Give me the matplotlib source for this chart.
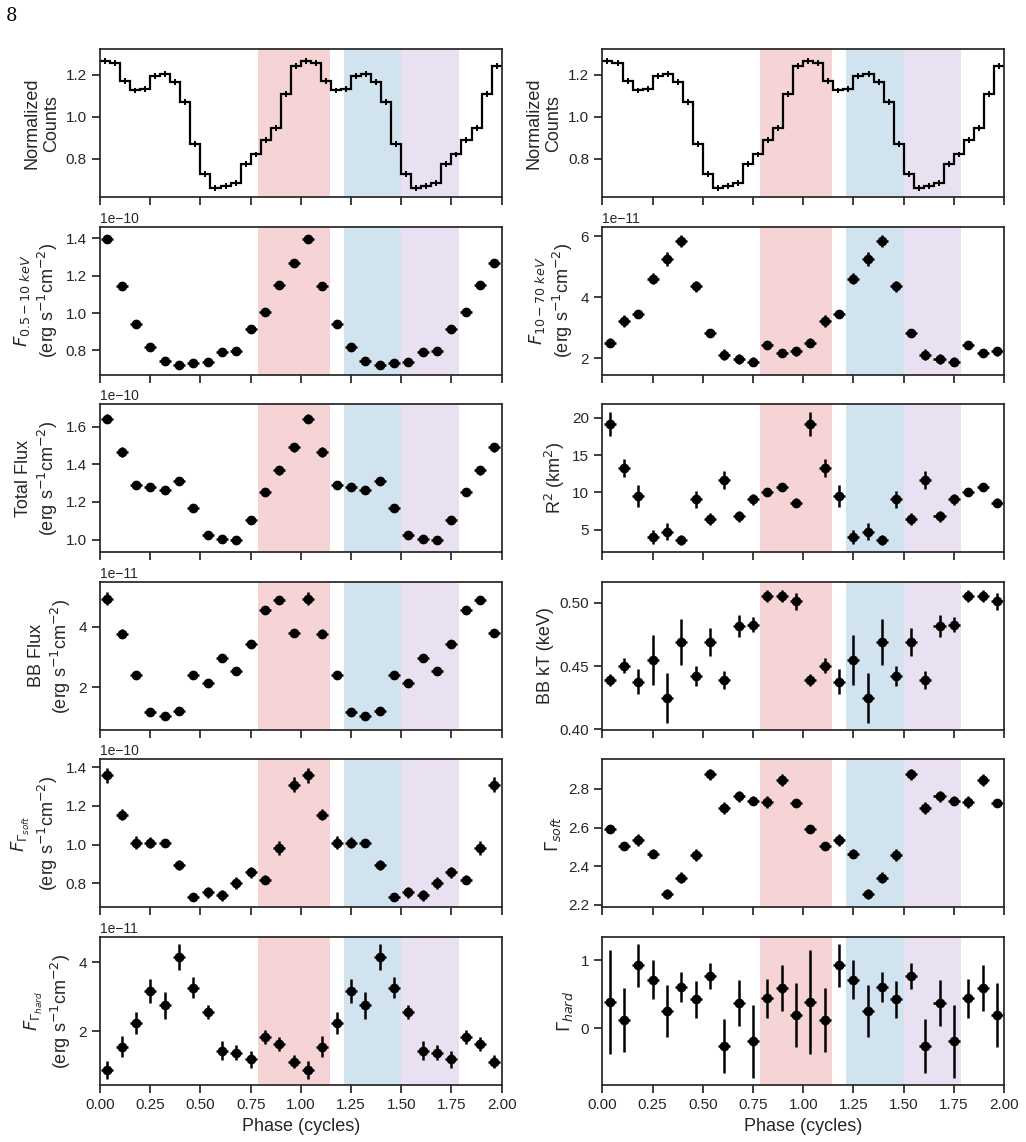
import numpy as np
import matplotlib.pyplot as plt

# light curve, 20 bins per cycle (one cycle, repeated for display)
counts = [1.265, 1.255, 1.17, 1.125, 1.13, 1.195, 1.205, 1.165, 1.07, 0.87,
          0.725, 0.66, 0.67, 0.685, 0.775, 0.82, 0.89, 0.945, 1.11, 1.24]
counts_err = [0.014] * 20

# phase-resolved spectroscopy, 14 bins per cycle
f_soft_band = [1.396, 1.143, 0.943, 0.820, 0.741, 0.723, 0.730, 0.737, 0.789, 0.796,
               0.916, 1.007, 1.148, 1.270]  # 1e-10
f_soft_band_err = [0.012, 0.012, 0.010, 0.010, 0.010, 0.010, 0.010, 0.010, 0.010, 0.010,
                   0.010, 0.012, 0.012, 0.012]
f_hard_band = [2.52, 3.22, 3.45, 4.60, 5.26, 5.85, 4.36, 2.84, 2.12, 1.98,
               1.90, 2.45, 2.18, 2.23]  # 1e-11
f_hard_band_err = [0.15, 0.20, 0.12, 0.18, 0.22, 0.20, 0.18, 0.12, 0.18, 0.15,
                   0.15, 0.12, 0.12, 0.15]
total_flux = [1.645, 1.466, 1.288, 1.280, 1.266, 1.311, 1.170, 1.023, 1.002, 0.996,
              1.105, 1.252, 1.368, 1.491]  # 1e-10
total_flux_err = [0.025, 0.025, 0.015, 0.018, 0.02, 0.018, 0.018, 0.015, 0.018, 0.015,
                  0.02, 0.018, 0.022, 0.022]
r2 = [19.24, 13.27, 9.5, 4.0, 4.74, 3.6, 9.06, 6.36, 11.7, 6.76,
      9.06, 10.0, 10.67, 8.6]
r2_err = [1.6, 1.2, 1.5, 1.0, 1.2, 0.7, 1.1, 0.8, 1.2, 0.7, 0.7, 0.5, 0.5, 0.6]
bb_flux = [4.93, 3.77, 2.40, 1.17, 1.05, 1.20, 2.40, 2.14, 2.97, 2.53,
           3.43, 4.55, 4.87, 3.78]  # 1e-11
bb_flux_err = [0.2, 0.15, 0.12, 0.1, 0.12, 0.1, 0.12, 0.08, 0.1, 0.1,
               0.1, 0.1, 0.1, 0.12]
bb_kt = [0.4392, 0.4503, 0.4378, 0.4550, 0.4249, 0.4689, 0.4424, 0.4694, 0.4389, 0.4818,
         0.4826, 0.5053, 0.5053, 0.5011]
bb_kt_err = [0.005, 0.006, 0.010, 0.020, 0.020, 0.018, 0.008, 0.011, 0.007, 0.009,
             0.006, 0.005, 0.005, 0.007]
f_gsoft = [1.357, 1.155, 1.010, 1.010, 1.007, 0.894, 0.730, 0.753, 0.737, 0.800,
           0.856, 0.819, 0.983, 1.310]  # 1e-10
f_gsoft_err = [0.04, 0.03, 0.035, 0.03, 0.01, 0.025, 0.015, 0.03, 0.03, 0.03,
               0.03, 0.025, 0.035, 0.04]
g_soft = [2.590, 2.505, 2.536, 2.465, 2.255, 2.341, 2.458, 2.876, 2.700, 2.762,
          2.740, 2.733, 2.845, 2.729]
g_soft_err = [0.02, 0.02, 0.03, 0.025, 0.025, 0.03, 0.03, 0.03, 0.03, 0.03,
              0.025, 0.03, 0.03, 0.015]
f_ghard = [0.874, 1.553, 2.243, 3.155, 2.748, 4.155, 3.262, 2.553, 1.437, 1.379,
           1.185, 1.825, 1.631, 1.117]  # 1e-11
f_ghard_err = [0.25, 0.3, 0.32, 0.35, 0.4, 0.37, 0.3, 0.2, 0.28, 0.22,
               0.25, 0.2, 0.2, 0.2]
g_hard = [0.392, 0.118, 0.922, 0.716, 0.26, 0.608, 0.426, 0.77, -0.255, 0.372,
          -0.19, 0.44, 0.588, 0.196]
g_hard_err = [0.76, 0.47, 0.32, 0.28, 0.38, 0.22, 0.27, 0.19, 0.4, 0.34,
              0.53, 0.28, 0.34, 0.47]

# phase intervals (in units of 1/14 cycle)
spans = [(11, 16, '#d62728'), (17, 21, '#1f77b4'), (21, 25, '#9467bd')]

plt.rcParams['font.family'] = ['Liberation Sans', 'DejaVu Sans']
plt.rcParams['axes.edgecolor'] = '0.15'
plt.rcParams['axes.linewidth'] = 1.25
plt.rcParams['xtick.color'] = '0.15'
plt.rcParams['ytick.color'] = '0.15'
plt.rcParams['text.color'] = '0.15'
plt.rcParams['axes.labelcolor'] = '0.15'
plt.rcParams['xtick.major.width'] = 1.25
plt.rcParams['ytick.major.width'] = 1.25
plt.rcParams['xtick.major.size'] = 6
plt.rcParams['ytick.major.size'] = 6

fig, axes = plt.subplots(6, 2, figsize=(10.26, 11.42), dpi=100, sharex=True)
fig.subplots_adjust(left=0.0975, right=0.9786, top=0.957, bottom=0.0499,
                    hspace=0.2, wspace=0.251)

phase14 = (np.arange(28) + 0.5) / 14
phase20 = (np.arange(40) + 0.5) / 20
edges20 = np.linspace(0, 2, 41)

flux_lab = '(erg s$^{-1}$cm$^{-2}$)'
panels = {
    (1, 0): (f_soft_band, f_soft_band_err, 1e-10, '$F_{0.5-10\\ keV}$\n' + flux_lab,
             (0.67e-10, 1.4625e-10), [0.8e-10, 1.0e-10, 1.2e-10, 1.4e-10]),
    (2, 0): (total_flux, total_flux_err, 1e-10, 'Total Flux\n' + flux_lab,
             (0.932e-10, 1.721e-10), [1.0e-10, 1.2e-10, 1.4e-10, 1.6e-10]),
    (3, 0): (bb_flux, bb_flux_err, 1e-11, 'BB Flux\n' + flux_lab,
             (0.59e-11, 5.48e-11), [2e-11, 4e-11]),
    (4, 0): (f_gsoft, f_gsoft_err, 1e-10, '$F_{\\Gamma_{soft}}$\n' + flux_lab,
             (0.675e-10, 1.44e-10), [0.8e-10, 1.0e-10, 1.2e-10, 1.4e-10]),
    (5, 0): (f_ghard, f_ghard_err, 1e-11, '$F_{\\Gamma_{hard}}$\n' + flux_lab,
             (0.437e-11, 4.73e-11), [2e-11, 4e-11]),
    (1, 1): (f_hard_band, f_hard_band_err, 1e-11, '$F_{10-70\\ keV}$\n' + flux_lab,
             (1.47e-11, 6.31e-11), [2e-11, 4e-11, 6e-11]),
    (2, 1): (r2, r2_err, 1, 'R$^2$ (km$^2$)', (1.95, 21.84), [5, 10, 15, 20]),
    (3, 1): (bb_kt, bb_kt_err, 1, 'BB kT (keV)', (0.3997, 0.5166), [0.40, 0.45, 0.50]),
    (4, 1): (g_soft, g_soft_err, 1, '$\\Gamma_{soft}$', (2.186, 2.953),
             [2.2, 2.4, 2.6, 2.8]),
    (5, 1): (g_hard, g_hard_err, 1, '$\\Gamma_{hard}$', (-0.828, 1.338), [0, 1]),
}

for ax in axes.flat:
    for lo, hi, c in spans:
        ax.axvspan(lo / 14, hi / 14, color=c, alpha=0.2, lw=0)
    ax.set_xlim(0, 2)
    ax.set_xticks(np.arange(0, 2.01, 0.25))
    ax.tick_params(labelsize=11)

for col in range(2):
    ax = axes[0, col]
    c2 = np.tile(counts, 2)
    ax.stairs(c2, edges20, color='k', lw=1.6, baseline=None)
    ax.errorbar(phase20, c2, yerr=np.tile(counts_err, 2), xerr=0.018,
                fmt='none', ecolor='k', elinewidth=1.4)
    ax.set_ylim(0.617, 1.322)
    ax.set_yticks([0.8, 1.0, 1.2])
    ax.set_ylabel('Normalized\nCounts', fontsize=13)

for (r, c), (vals, errs, scale, label, ylim, yticks) in panels.items():
    ax = axes[r, c]
    v = np.tile(vals, 2) * scale
    e = np.tile(errs, 2) * scale
    ax.errorbar(phase14, v, yerr=e, xerr=0.03, fmt='o', color='k', ms=6,
                elinewidth=1.8, capsize=0)
    ax.set_ylim(*ylim)
    ax.set_yticks(yticks)
    ax.set_ylabel(label, fontsize=13)
    ax.yaxis.get_offset_text().set_fontsize(10)

for ax in axes[-1]:
    ax.set_xlabel('Phase (cycles)', fontsize=13)
    ax.set_xticklabels(['0.00', '0.25', '0.50', '0.75', '1.00', '1.25', '1.50', '1.75', '2.00'])

fig.text(0.006, 0.982, '8', family='DejaVu Serif', fontsize=13, color='k')

plt.savefig('out.png', dpi=100)
